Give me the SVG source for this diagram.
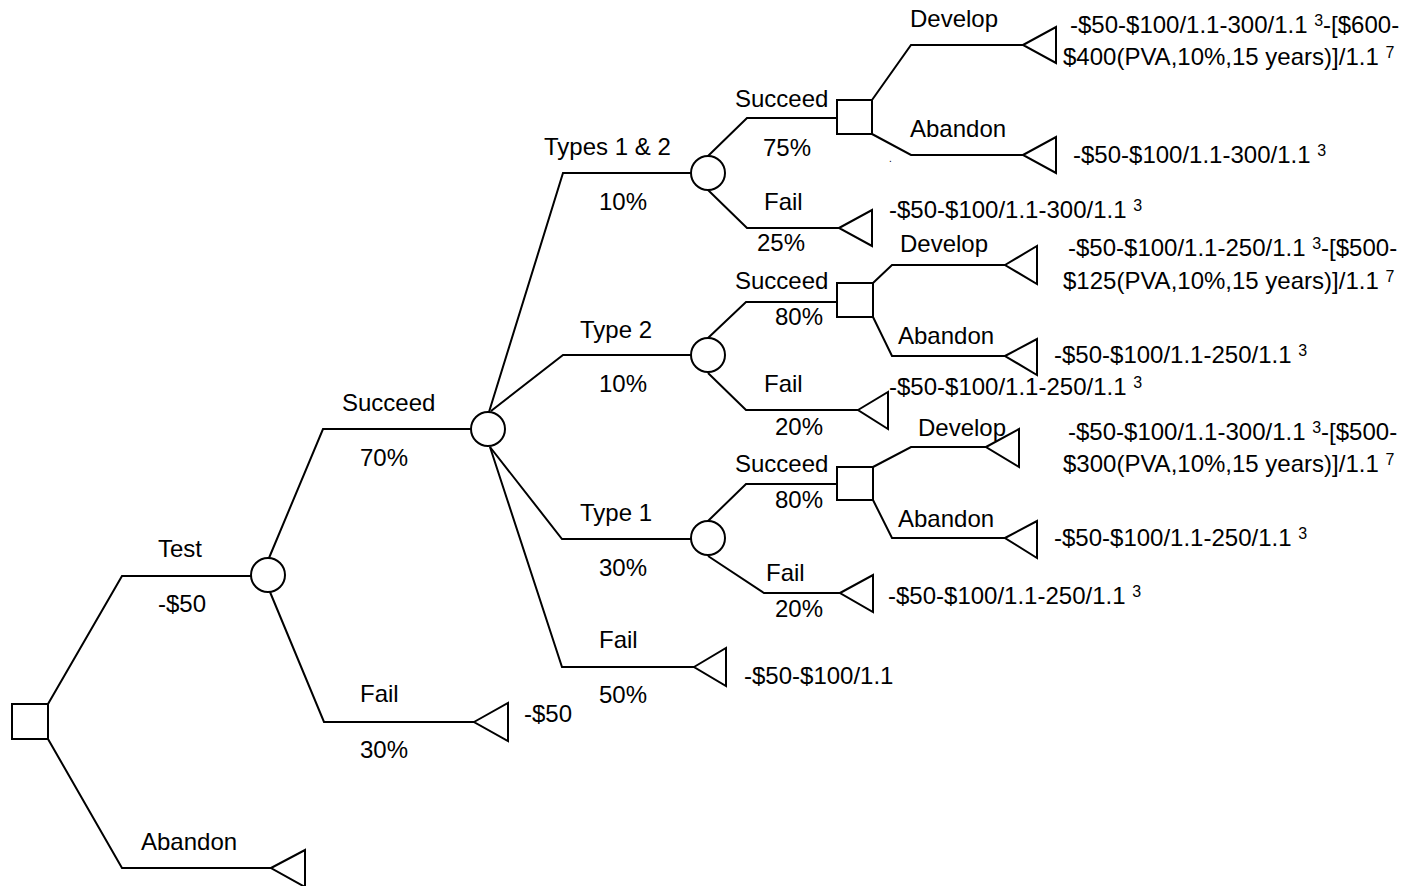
<svg xmlns="http://www.w3.org/2000/svg" width="1420" height="886" viewBox="0 0 1420 886">
<style>
.ln{fill:none;stroke:#000;stroke-width:2;stroke-linejoin:miter}
.nd{fill:#fff;stroke:#000;stroke-width:2}
text{font-family:"Liberation Sans",Arial,sans-serif;font-size:24px;fill:#000}
.sup{font-size:16px}
</style>
<rect width="1420" height="886" fill="#fff"/>
<g id="connectors">
<polyline class="ln" points="48,704 122,576 251,576"/>
<polyline class="ln" points="48,739 122,868 271,868"/>
<polyline class="ln" points="269,558 323,429 471,429"/>
<polyline class="ln" points="270,592 324,722 474,722"/>
<polyline class="ln" points="489,412 563,173 691,173"/>
<polyline class="ln" points="491,411 563,355 691,355"/>
<polyline class="ln" points="490,447 562,539 691,539"/>
<polyline class="ln" points="490,447 562,667 694,667"/>
<polyline class="ln" points="708,156 747,118 837,118"/>
<polyline class="ln" points="708,190 747,228 839,228"/>
<polyline class="ln" points="872,100 911,45 1023,45"/>
<polyline class="ln" points="872,134 911,155 1023,155"/>
<polyline class="ln" points="708,338 746,302 837,302"/>
<polyline class="ln" points="708,373 746,410 858,410"/>
<polyline class="ln" points="873,283 892,265 1005,265"/>
<polyline class="ln" points="873,317 892,356 1005,356"/>
<polyline class="ln" points="708,521 746,484 837,484"/>
<polyline class="ln" points="708,556 764,593 840,593"/>
<polyline class="ln" points="873,467 911,447 986,447"/>
<polyline class="ln" points="873,500 892,538 1005,538"/>
</g>
<g id="root"><rect class="nd" x="12" y="704" width="36" height="35"/></g>
<g id="chance1"><circle class="nd" cx="268" cy="575" r="17"/></g>
<g id="end-abandon"><polygon class="nd" points="271,868 305,850 305,887"/></g>
<g id="end-fail"><polygon class="nd" points="474,722 508,703 508,741"/></g>
<g id="chance2"><circle class="nd" cx="488" cy="429" r="17"/></g>
<g id="chance3"><circle class="nd" cx="708" cy="173" r="17"/></g>
<g id="chance4"><circle class="nd" cx="708" cy="355" r="17"/></g>
<g id="chance5"><circle class="nd" cx="708" cy="538" r="17"/></g>
<g id="end-fail2"><polygon class="nd" points="694,667 726,648 726,686"/></g>
<g id="dec1"><rect class="nd" x="837" y="100" width="35" height="34"/></g>
<g id="dec2"><rect class="nd" x="837" y="283" width="36" height="34"/></g>
<g id="dec3"><rect class="nd" x="837" y="467" width="36" height="33"/></g>
<g id="end-c3fail"><polygon class="nd" points="839,228 872,210 872,246"/></g>
<g id="end-c4fail"><polygon class="nd" points="858,410 888,392 888,429"/></g>
<g id="end-c5fail"><polygon class="nd" points="840,593 873,575 873,612"/></g>
<g id="end-d1dev"><polygon class="nd" points="1023,45 1056,27 1056,63"/></g>
<g id="end-d1ab"><polygon class="nd" points="1023,155 1056,137 1056,173"/></g>
<g id="end-d2dev"><polygon class="nd" points="1005,265 1037,246 1037,284"/></g>
<g id="end-d2ab"><polygon class="nd" points="1005,356 1037,339 1037,375"/></g>
<g id="end-d3dev"><polygon class="nd" points="986,447 1019,429 1019,467"/></g>
<g id="end-d3ab"><polygon class="nd" points="1005,538 1037,521 1037,558"/></g>
<g id="labels">
<text x="158" y="557">Test</text>
<text x="158" y="612">-$50</text>
<text x="141" y="850">Abandon</text>
<text x="342" y="411">Succeed</text>
<text x="360" y="466">70%</text>
<text x="360" y="702">Fail</text>
<text x="360" y="758">30%</text>
<text x="524" y="722">-$50</text>
<text x="544" y="155">Types 1 &amp; 2</text>
<text x="599" y="210">10%</text>
<text x="580" y="338">Type 2</text>
<text x="599" y="392">10%</text>
<text x="580" y="521">Type 1</text>
<text x="599" y="576">30%</text>
<text x="599" y="648">Fail</text>
<text x="599" y="703">50%</text>
<text x="744" y="684">-$50-$100/1.1</text>
<text x="735" y="107">Succeed</text>
<text x="763" y="156">75%</text>
<text x="764" y="210">Fail</text>
<text x="757" y="251">25%</text>
<text x="735" y="289">Succeed</text>
<text x="775" y="325">80%</text>
<text x="764" y="392">Fail</text>
<text x="775" y="435">20%</text>
<text x="735" y="472">Succeed</text>
<text x="775" y="508">80%</text>
<text x="766" y="581">Fail</text>
<text x="775" y="617">20%</text>
<text x="910" y="27">Develop</text>
<text x="910" y="137">Abandon</text>
<text x="889" y="162" style="font-size:10px">.</text>
<text x="900" y="252">Develop</text>
<text x="898" y="344">Abandon</text>
<text x="918" y="436">Develop</text>
<text x="898" y="527">Abandon</text>
<text x="1070" y="33">-$50-$100/1.1-300/1.1 <tspan class="sup" dy="-7">3</tspan><tspan dy="7">-[$600-</tspan></text>
<text x="1063" y="65">$400(PVA,10%,15 years)]/1.1 <tspan class="sup" dy="-7">7</tspan></text>
<text x="1073" y="163">-$50-$100/1.1-300/1.1 <tspan class="sup" dy="-7">3</tspan></text>
<text x="889" y="218">-$50-$100/1.1-300/1.1 <tspan class="sup" dy="-7">3</tspan></text>
<text x="1068" y="256">-$50-$100/1.1-250/1.1 <tspan class="sup" dy="-7">3</tspan><tspan dy="7">-[$500-</tspan></text>
<text x="1063" y="289">$125(PVA,10%,15 years)]/1.1 <tspan class="sup" dy="-7">7</tspan></text>
<text x="1054" y="363">-$50-$100/1.1-250/1.1 <tspan class="sup" dy="-7">3</tspan></text>
<text x="889" y="395">-$50-$100/1.1-250/1.1 <tspan class="sup" dy="-7">3</tspan></text>
<text x="1068" y="440">-$50-$100/1.1-300/1.1 <tspan class="sup" dy="-7">3</tspan><tspan dy="7">-[$500-</tspan></text>
<text x="1063" y="472">$300(PVA,10%,15 years)]/1.1 <tspan class="sup" dy="-7">7</tspan></text>
<text x="1054" y="546">-$50-$100/1.1-250/1.1 <tspan class="sup" dy="-7">3</tspan></text>
<text x="888" y="604">-$50-$100/1.1-250/1.1 <tspan class="sup" dy="-7">3</tspan></text>
</g>
</svg>
